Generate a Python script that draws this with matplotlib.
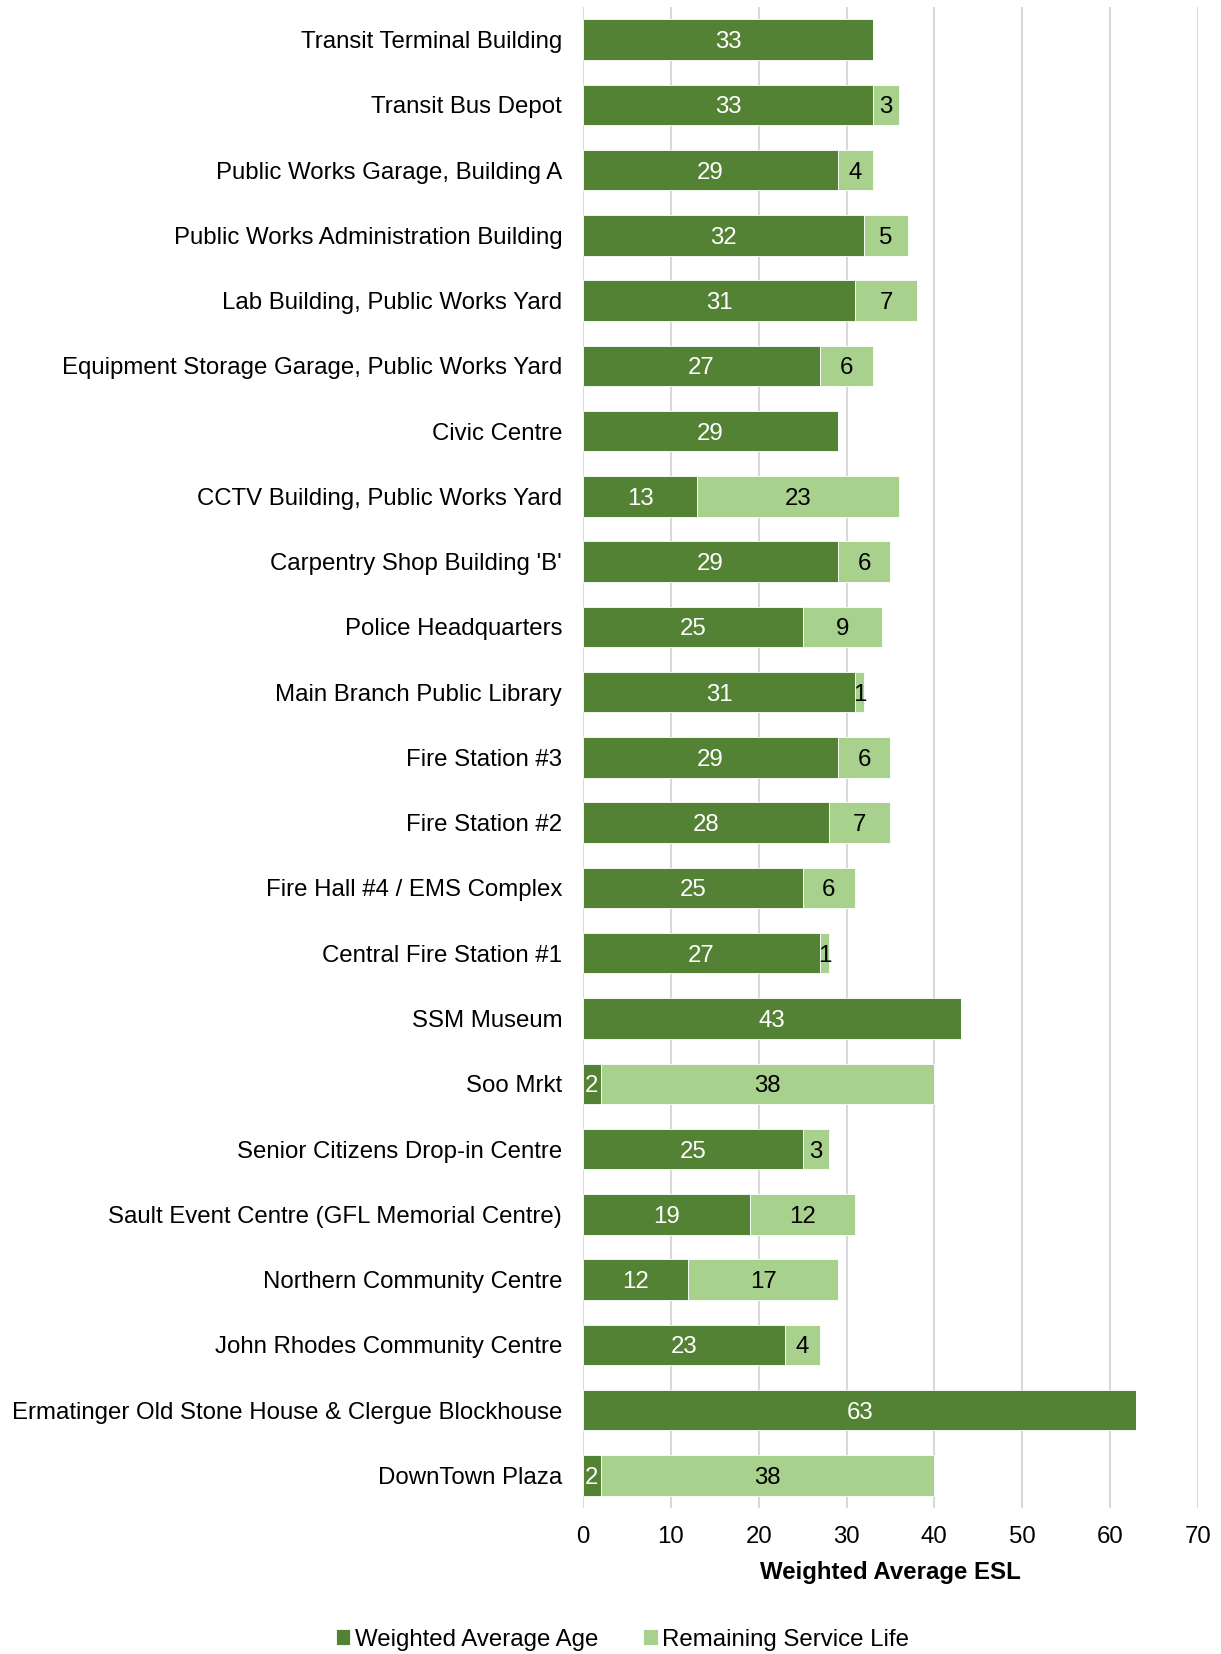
import numpy as np
import matplotlib.pyplot as plt

plt.rcParams['font.family'] = ['Liberation Sans', 'DejaVu Sans']

facilities = [
    "Transit Terminal Building",
    "Transit Bus Depot",
    "Public Works Garage, Building A",
    "Public Works Administration Building",
    "Lab Building, Public Works Yard",
    "Equipment Storage Garage, Public Works Yard",
    "Civic Centre",
    "CCTV Building, Public Works Yard",
    "Carpentry Shop Building 'B'",
    "Police Headquarters",
    "Main Branch Public Library",
    "Fire Station #3",
    "Fire Station #2",
    "Fire Hall #4 / EMS Complex",
    "Central Fire Station #1",
    "SSM Museum",
    "Soo Mrkt",
    "Senior Citizens Drop-in Centre",
    "Sault Event Centre (GFL Memorial Centre)",
    "Northern Community Centre",
    "John Rhodes Community Centre",
    "Ermatinger Old Stone House & Clergue Blockhouse",
    "DownTown Plaza",
]
avg_age = [33, 33, 29, 32, 31, 27, 29, 13, 29, 25, 31, 29, 28, 25, 27, 43, 2, 25, 19, 12, 23, 63, 2]
remaining = [0, 3, 4, 5, 7, 6, 0, 23, 6, 9, 1, 6, 7, 6, 1, 0, 38, 3, 12, 17, 4, 0, 38]
xticks = [0, 10, 20, 30, 40, 50, 60, 70]

dark = '#548235'
light = '#A9D18E'
fs = 17.3

fig = plt.figure(figsize=(12.21, 16.54), dpi=100, facecolor='white')
ax = fig.add_axes([0.4775, 0.0883, 0.5035, 0.9075])

y = np.arange(len(facilities))
age = np.array(avg_age)
rem = np.array(remaining)
b1 = ax.barh(y, age, height=0.62, color=dark, edgecolor='white', linewidth=0.6,
             label='Weighted Average Age', zorder=3)
b2 = ax.barh(y, rem, left=age, height=0.62, color=light, edgecolor='white', linewidth=0.6,
             label='Remaining Service Life', zorder=3)

# segment values: white on the age part, black on the remaining part (zeros skipped)
for yi, a, r in zip(y, age, rem):
    if a > 0:
        ax.text(a / 2, yi, str(a), ha='center', va='center_baseline', color='white',
                fontsize=fs, zorder=4)
    if r > 0:
        ax.text(a + r / 2, yi, str(r), ha='center', va='center_baseline', color='black',
                fontsize=fs, zorder=4)

ax.set_xlim(0, 70)
ax.set_ylim(len(facilities) - 0.5, -0.5)
ax.set_xticks(xticks)
ax.set_yticks(y)
ax.set_yticklabels(facilities)
ax.tick_params(axis='both', length=0, labelsize=fs)
ax.tick_params(axis='y', pad=15)
ax.tick_params(axis='x', pad=13)
ax.grid(axis='x', color='#D9D9D9', linewidth=1.5, zorder=0)
ax.set_axisbelow(True)
for s in ax.spines.values():
    s.set_visible(False)

ax.set_xlabel('Weighted Average ESL', fontsize=fs, fontweight='bold', labelpad=9)

fig.legend(handles=[b1, b2], loc='lower center', bbox_to_anchor=(0.51, -0.011), ncol=2,
           frameon=False, fontsize=fs, handlelength=0.6, handleheight=0.6,
           handletextpad=0.2, columnspacing=1.85)

fig.savefig('out.png', dpi=100, facecolor='white')
